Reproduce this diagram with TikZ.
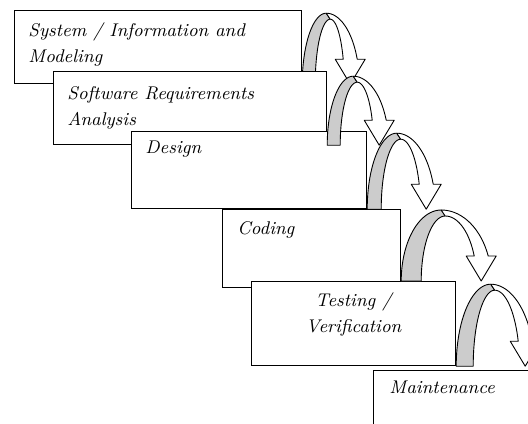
\documentclass[tikz,border=0pt]{standalone}
\usepackage{tikz}
\usetikzlibrary{positioning}
\definecolor{ribbon}{gray}{0.8}

% flecha curva entre dos etapas: base, altura, ancho del lado gris, distancia hasta la punta
\newcommand{\bendarrow}[4]{%
  \begin{scope}[shift={(#1)}]
    \pgfmathsetmacro{\bra}{#4/2}
    \pgfmathsetmacro{\brc}{#4/2+4}
    \pgfmathsetmacro{\brh}{#2-6}
    \pgfmathsetmacro{\brt}{asin(25/#2)}
    \pgfmathsetmacro{\brs}{asin(25/\brh)}
    \pgfmathsetmacro{\bro}{(\bra+7)/cos(\brt)}
    \pgfmathsetmacro{\bri}{(#4-7-\brc)/cos(\brs)}
    \filldraw[ribbonback] (0,0) -- plot[domain=180:90] ({\bra+\bra*cos(\x)},{-#2*sin(\x)})
      -- plot[domain=90:180] ({\brc+(\brc-#3)*cos(\x)},{-\brh*sin(\x)}) -- cycle;
    \filldraw[ribbonfront] plot[domain=90:\brt] ({\bra+\bro*cos(\x)},{-#2*sin(\x)})
      -- (#4+15,-25) -- (#4,0) -- (#4-15,-25)
      -- plot[domain=\brs:90] ({\brc+\bri*cos(\x)},{-\brh*sin(\x)}) -- cycle;
  \end{scope}}

\begin{document}
\begin{tikzpicture}[x=0.5pt, y=-0.5pt,
    stage/.style={draw, fill=white, line width=0.6pt, anchor=north west, inner sep=0pt},
    etiqueta/.style={inner sep=0pt, align=left, font=\fontsize{9.2}{13}\selectfont\itshape},
    ribbonback/.style={fill=ribbon, draw, line width=0.45pt, line join=round, samples=30},
    ribbonfront/.style={fill=white, draw, line width=0.45pt, line join=round, samples=30}]
    \useasboundingbox (0,0) rectangle (528,423);
    \clip (0,0) rectangle (528,423);

    % Primera etapa
    \node[stage, minimum width=143.5pt, minimum height=36.5pt] (sys) at (14,10) {};
    \node[etiqueta, below right=6pt and 7pt of sys.north west] (sys-txt) {System / Information and\\Modeling};
    \bendarrow{sys.south east}{71}{13}{48}

    % Requisitos y diseno
    \node[stage, minimum width=136.5pt, minimum height=36.5pt] (req) at (53,71) {};
    \node[etiqueta, below right=7.5pt and 7pt of req.north west] (req-txt) {Software Requirements\\Analysis};
    \node[stage, minimum width=117.5pt, minimum height=38.5pt] (des) at (131,131) {};
    \node[etiqueta, below right=5pt and 7pt of des.north west] (des-txt) {Design};
    \bendarrow{req.south east}{69}{13}{52}

    % Codificacion
    \node[stage, minimum width=89pt, minimum height=39pt] (cod) at (222,209) {};
    \node[etiqueta, below right=6pt and 7.5pt of cod.north west] (cod-txt) {Coding};
    \bendarrow{des.south east}{76}{14}{59}

    % Pruebas
    \node[stage, minimum width=102pt, minimum height=42pt] (test) at (251,281) {};
    \node[etiqueta, align=center, below=5.5pt of test.north] (test-txt) {Testing /\\Verification};
    \bendarrow{cod.east |- test.north}{71}{20}{80}
    \bendarrow{test.south east}{82}{17}{69}

    % Mantenimiento
    \node[stage, minimum width=85pt, minimum height=35pt] (maint) at (373,370) {};
    \node[etiqueta, below right=5.5pt and 8pt of maint.north west] (maint-txt) {Maintenance};
\end{tikzpicture}
\end{document}
